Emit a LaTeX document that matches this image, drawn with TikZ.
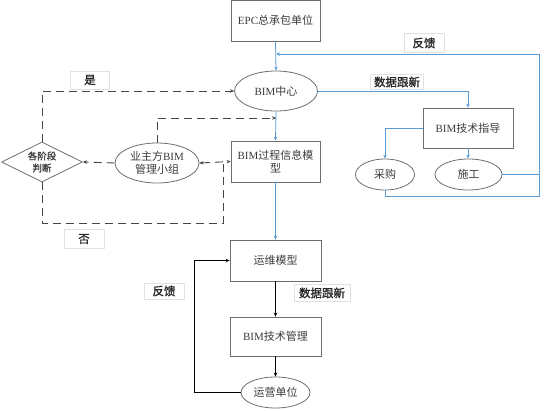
\documentclass[tikz,border=0pt]{standalone}
\usepackage{fontspec}
\setmainfont{Liberation Serif}
\newfontfamily\cjk{Noto Sans CJK SC}
\newfontfamily\cjkm{Noto Sans CJK SC}[FakeBold=1.2]
\usetikzlibrary{shapes.geometric,arrows.meta}
\definecolor{lnblue}{RGB}{91,155,213}
\definecolor{lngray}{RGB}{70,70,70}
\definecolor{bdgray}{RGB}{110,110,110}
\definecolor{txgray}{RGB}{60,60,60}
\definecolor{lbgray}{RGB}{225,225,225}
\tikzset{
  box/.style={draw=bdgray,line width=0.8pt,rectangle,inner sep=1pt,align=center,text=txgray,font=\fontsize{11}{13.5}\selectfont},
  ell/.style={draw=bdgray,line width=0.8pt,ellipse,inner sep=0pt,align=center,text=txgray,font=\fontsize{11}{13.5}\selectfont},
  lbl/.style={draw=lbgray,fill=white,line width=0.6pt,inner sep=0pt,font=\fontsize{11.5}{12}\selectfont\cjkm,text=black!85},
  bl/.style={draw=lnblue,line width=0.8pt},
  bk/.style={draw=black,line width=0.8pt},
  dsh/.style={draw=lngray,line width=0.9pt,dash pattern=on 8pt off 5pt},
  tip/.style={-{Stealth[length=4pt,width=3.5pt]}}
}
\begin{document}
\begin{tikzpicture}[x=1pt,y=-1pt]
\useasboundingbox (0,0) rectangle (554,410);
% nodes
\node[box,minimum width=89pt,minimum height=41pt] (epc) at (275.5,20.5) {EPC{\cjk 总承包单位}};
\node[ell,minimum width=83pt,minimum height=40pt] (center) at (276,91) {BIM{\cjk 中心}};
\node[box,minimum width=89pt,minimum height=41pt] (proc) at (275.5,161.5) {BIM{\cjk 过程信息模}\\{\cjk 型}};
\node[box,minimum width=91pt,minimum height=41pt] (ywm) at (275.5,260.5) {\cjk 运维模型};
\node[box,minimum width=91pt,minimum height=39pt] (mgmt) at (275.5,336.5) {BIM{\cjk 技术管理}};
\node[ell,minimum width=69pt,minimum height=31pt] (yy) at (275.5,392.5) {\cjk 运营单位};
\node[box,minimum width=90pt,minimum height=40pt] (guide) at (468,128) {BIM{\cjk 技术指导}};
\node[ell,minimum width=59pt,minimum height=31pt] (cg) at (385,174.5) {\cjk 采购};
\node[ell,minimum width=67pt,minimum height=31pt] (sg) at (468.5,174.5) {\cjk 施工};
\node[ell,minimum width=84pt,minimum height=40pt] (yz) at (157,163) {{\cjk 业主方}BIM\\\cjk 管理小组};
\node[draw=bdgray,line width=0.8pt,diamond,aspect=2,inner sep=0pt,minimum width=81pt,minimum height=40pt,align=center,text=txgray,font=\fontsize{9.5}{12}\selectfont\cjkm] (dia) at (42,162) {各阶段\\判断};
% labels
\node[lbl,minimum width=39pt,minimum height=18pt] (lshi) at (90,80) {是};
\node[lbl,minimum width=40pt,minimum height=19pt] (lfou) at (84,239) {否};
\node[lbl,minimum width=40pt,minimum height=19pt] (lfk1) at (424,43) {反馈};
\node[lbl,minimum width=53pt,minimum height=15pt] (lsj1) at (397,82) {数据跟新};
\node[lbl,minimum width=56pt,minimum height=17pt] (lsj2) at (322,293) {数据跟新};
\node[lbl,minimum width=40pt,minimum height=16pt] (lfk2) at (164,291) {反馈};
% coordinates
\coordinate (fbB) at (539,196);
\coordinate (fbT) at (539,54);
\coordinate (fbL) at (276,54);
\coordinate (lp) at (194,0);
\coordinate (j1) at (276,118);
\coordinate (j2) at (223,223);
% blue connectors
\draw[bl,tip] (epc.south) -- (center.north);
\draw[bl] (sg.east) -- (fbB|-sg.east);
\draw[bl,tip] (cg.south) |- (fbB) -- (fbT) -- (fbL);
\draw[bl,tip] (center.east) -| (guide.north);
\draw[bl,tip] (guide.west) -| (cg.north);
\draw[bl,tip] (guide.south) -- (guide.south|-sg.north);
\draw[bl,tip] (center.south) -- (proc.north);
\draw[bl,tip] (proc.south) -- (ywm.north);
% black connectors
\draw[bk,tip] (ywm.south) -- (mgmt.north);
\draw[bk,tip] (mgmt.south) -- (yy.north);
\draw[bk,tip] (yy.west) -| (lp|-ywm.west) -- (ywm.west);
% dashed connectors
\draw[dsh,tip] (yz.west) -- (dia.east);
\draw[dsh,tip] (dia.north) |- (center.west);
\draw[dsh,tip] (yz.north) |- (j1);
\draw[dsh] (dia.south) |- (j2) -- (j2|-proc.west);
\draw[dsh,{Stealth[length=4pt,width=3.5pt]}-{Stealth[length=4pt,width=3.5pt]}] (yz.east) -- (proc.west);
\end{tikzpicture}
\end{document}
